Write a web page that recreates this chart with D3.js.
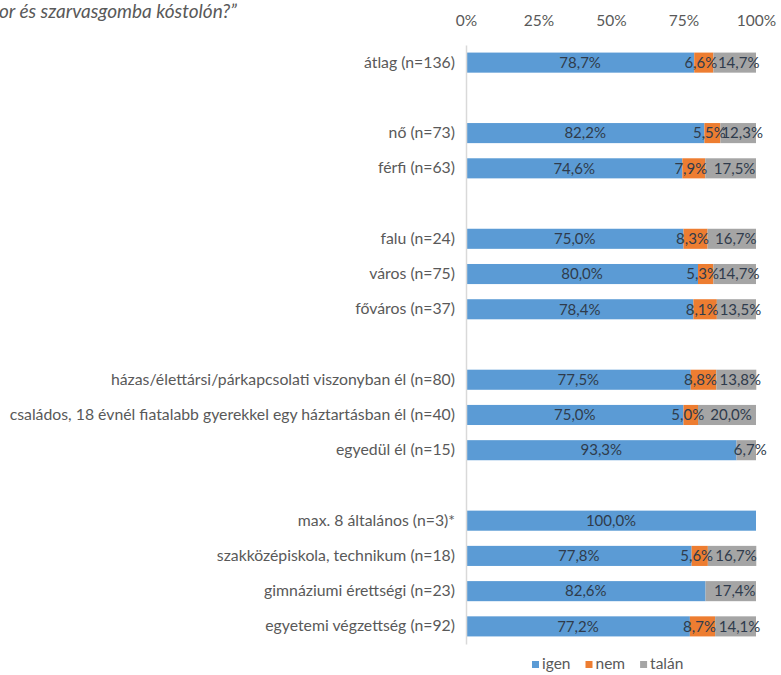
<!DOCTYPE html>
<html>
<head>
<meta charset="utf-8">
<script src="https://cdn.jsdelivr.net/npm/d3@7"></script>
<style>
  body { margin: 0; background: #fff; }
  svg { display: block; font-family: Lato, "Open Sans", sans-serif; }
</style>
</head>
<body>
<svg id="chart" width="781" height="675"></svg>
<script>
// Rows of the chart; empty strings are spacer rows between the groups
const categories = [
  "átlag (n=136)", "",
  "nő (n=73)", "férfi (n=63)", "",
  "falu (n=24)", "város (n=75)", "főváros (n=37)", "",
  "házas/élettársi/párkapcsolati viszonyban él (n=80)",
  "családos, 18 évnél fiatalabb gyerekkel egy háztartásban él (n=40)",
  "egyedül él (n=15)", "",
  "max. 8 általános (n=3)*",
  "szakközépiskola, technikum (n=18)",
  "gimnáziumi érettségi (n=23)",
  "egyetemi végzettség (n=92)"
];
const igen  = [78.7, null, 82.2, 74.6, null, 75.0, 80.0, 78.4, null, 77.5, 75.0, 93.3, null, 100.0, 77.8, 82.6, 77.2];
const nem   = [6.6,  null, 5.5,  7.9,  null, 8.3,  5.3,  8.1,  null, 8.8,  5.0,  0,    null, 0,     5.6,  0,    8.7];
const talan = [14.7, null, 12.3, 17.5, null, 16.7, 14.7, 13.5, null, 13.8, 20.0, 6.7,  null, 0,     16.7, 17.4, 14.1];
const seriesNames = ["igen", "nem", "talán"];
const tickValues = [0, 25, 50, 75, 100];
const titleText = "or és szarvasgomba kóstolón?”";

const colors = { "igen": "#5b9bd5", "nem": "#ed7d31", "talán": "#a5a5a5" };
// small horizontal nudges so neighbouring value labels on narrow segments stay readable
const labelNudge = { "igen": 0, "nem": -3, "talán": 4 };
const labelColor = "#595959";
const valueColor = "#2f3b4c";

const huLocale = d3.formatLocale({ decimal: ",", thousands: " ", grouping: [3], currency: ["", " Ft"] });
const fmt = v => huLocale.format(".1f")(v) + "%";

const svg = d3.select("#chart");
const margin = { left: 466, right: 25, top: 45, bottom: 31 };
const width = 781, height = 675;

const x = d3.scaleLinear().domain([0, 100]).range([margin.left, width - margin.right]);
const y = d3.scaleBand()
  .domain(d3.range(categories.length))
  .range([margin.top, height - margin.bottom])
  .paddingInner(0.43)
  .paddingOuter(0.215);

// Title (continuation line of the question)
svg.append("text")
  .attr("x", -1).attr("y", 18)
  .attr("font-size", 19)
  .attr("font-style", "italic")
  .attr("fill", labelColor)
  .text(titleText);

// Build rows for the stack, skipping spacer rows
const rows = categories.map((c, i) => ({ i, c, "igen": igen[i], "nem": nem[i], "talán": talan[i] }))
  .filter(r => r.c !== "");
const stacked = d3.stack().keys(seriesNames)(rows);

// Bars
const layers = svg.append("g").selectAll("g")
  .data(stacked).join("g")
  .attr("fill", d => colors[d.key]);
layers.selectAll("rect")
  .data(d => d.filter(p => p[1] - p[0] > 0))
  .join("rect")
  .attr("x", p => x(p[0]))
  .attr("width", p => x(p[1]) - x(p[0]))
  .attr("y", p => y(p.data.i))
  .attr("height", y.bandwidth());

// Value labels on each segment
const labelLayer = svg.append("g").attr("font-size", 15).attr("fill", valueColor).attr("text-anchor", "middle");
stacked.forEach(layer => {
  labelLayer.selectAll(null)
    .data(layer.filter(p => p[1] - p[0] > 0))
    .join("text")
    .attr("x", p => (x(p[0]) + x(p[1])) / 2 + labelNudge[layer.key])
    .attr("y", p => y(p.data.i) + y.bandwidth() / 2)
    .attr("dy", "0.35em")
    .text(p => fmt(p.data[layer.key]));
});

// Category axis (left)
const yAxis = svg.append("g")
  .attr("transform", `translate(${margin.left},0)`)
  .call(d3.axisLeft(y).tickSize(0).tickSizeOuter(0).tickPadding(11).tickFormat(i => categories[i]));
yAxis.select(".domain").attr("stroke", "#d9d9d9").attr("stroke-width", 1.5);
yAxis.selectAll("text").attr("font-size", 15.8).attr("fill", labelColor).attr("font-family", "Lato, sans-serif");

// Percentage axis (top)
const xAxis = svg.append("g")
  .attr("transform", `translate(0,29)`)
  .call(d3.axisTop(x).tickValues(tickValues).tickSize(0).tickPadding(3).tickFormat(d => d + "%"));
xAxis.select(".domain").remove();
xAxis.selectAll("text").attr("font-size", 15.5).attr("fill", labelColor).attr("font-family", "Lato, sans-serif");

// Legend
const legend = svg.append("g").attr("font-size", 15.5).attr("fill", labelColor);
let lx = 532;
seriesNames.forEach(name => {
  legend.append("rect").attr("x", lx).attr("y", 661).attr("width", 7).attr("height", 7).attr("fill", colors[name]);
  const t = legend.append("text").attr("x", lx + 10).attr("y", 669).text(name);
  lx += 10 + t.node().getComputedTextLength() + 15;
});
</script>
</body>
</html>
